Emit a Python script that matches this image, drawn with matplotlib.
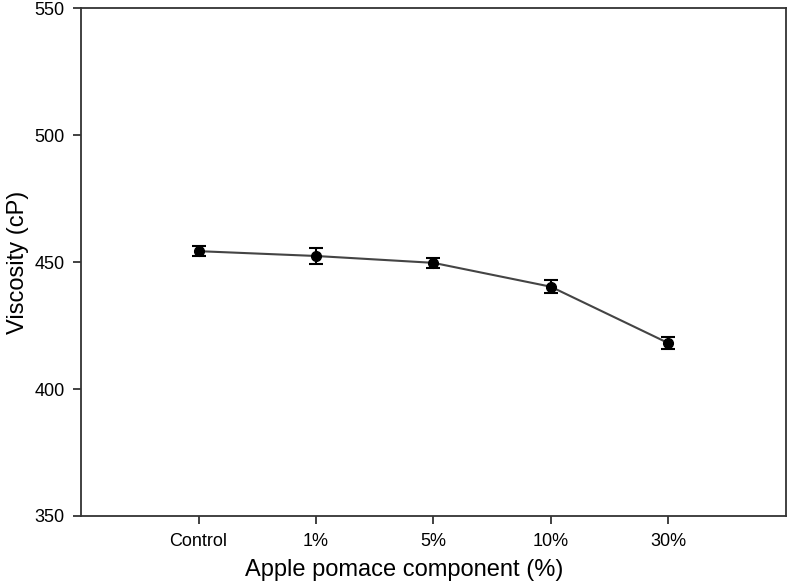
import matplotlib
matplotlib.use("Agg")
from matplotlib import pyplot as plt
import numpy as np

plt.rcParams['font.family'] = ['Liberation Sans', 'DejaVu Sans']

# data
groups = ["Control", "1%", "5%", "10%", "30%"]
viscosity = [454.3, 452.4, 449.7, 440.3, 418.1]
err = [2.0, 3.0, 2.0, 2.5, 2.5]

fig = plt.figure(figsize=(7.88, 5.85), dpi=100)
ax = fig.add_axes([0.103, 0.118, 0.894, 0.868])

x = np.arange(len(groups))
ax.plot(x, viscosity, color="#444444", linewidth=1.5, zorder=2)
ax.errorbar(x, viscosity, yerr=err, fmt="o", color="black", markersize=7,
            ecolor="black", elinewidth=1.5, capsize=5, capthick=1.5, zorder=3)

ax.set_xlim(-1, 5)
ax.set_ylim(350, 550)
ax.set_xticks(x)
ax.set_xticklabels(groups)
ax.set_yticks([350, 400, 450, 500, 550])

for s in ax.spines.values():
    s.set_color("#333333")
    s.set_linewidth(1.3)
ax.tick_params(direction="out", length=6, width=1.3, color="#333333",
               labelsize=13, pad=6)

ax.set_xlabel("Apple pomace component (%)", fontsize=17, labelpad=3)
ax.xaxis.set_label_coords(0.458, -0.085)
ax.set_ylabel("Viscosity (cP)", fontsize=17, labelpad=4)

plt.savefig("out.png", dpi=100)
